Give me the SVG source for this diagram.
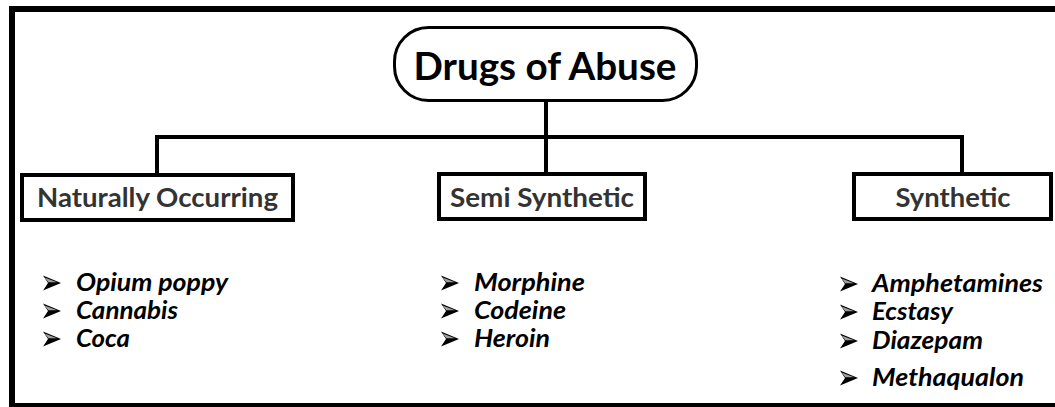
<svg xmlns="http://www.w3.org/2000/svg" width="1055" height="407" viewBox="0 0 1055 407">
  <style>
    .frame { fill: none; stroke: #000; stroke-width: 6; }
    .pill { fill: #fff; stroke: #000; stroke-width: 3; }
    .box { fill: #fff; stroke: #000; stroke-width: 4; }
    .conn { fill: none; stroke: #000; stroke-width: 4; stroke-linejoin: miter; stroke-linecap: butt; }
    .title { font-family: Lato, "Liberation Sans", sans-serif; font-weight: 700; font-size: 38px; fill: #000; text-anchor: middle; }
    .cat { font-family: Lato, "Liberation Sans", sans-serif; font-weight: 700; font-size: 26px; fill: #333; text-anchor: middle; }
    .item { font-family: Lato, "Liberation Sans", sans-serif; font-weight: 700; font-style: italic; font-size: 24px; fill: #000; }
  </style>
  <defs>
    <g id="bullet">
      <path d="M0,-7.5 L18,0 L0,7.5 L5,0 Z" fill="#000"/>
      <path d="M1.5,-5.5 L14,-0.8 L5.3,-0.8 Z" fill="#a0a0a0"/>
    </g>
  </defs>
  <rect width="1055" height="407" fill="#fff"/>
  <rect class="frame" x="12" y="9" width="1060" height="397"/>

  <g id="connectors">
    <path class="conn" d="M546,101 V137"/>
    <path class="conn" d="M157,175 V137 H962 V174"/>
    <path class="conn" d="M546,137 V174"/>
  </g>

  <g id="node-root">
    <rect class="pill" x="394.5" y="27.5" width="302" height="73" rx="34" ry="34"/>
    <text class="title" x="545" y="80" textLength="263" lengthAdjust="spacingAndGlyphs">Drugs of Abuse</text>
  </g>

  <g id="node-natural">
    <rect class="box" x="22" y="175" width="271" height="45"/>
    <text class="cat" x="157.5" y="207" textLength="241" lengthAdjust="spacingAndGlyphs">Naturally Occurring</text>
  </g>

  <g id="node-semi">
    <rect class="box" x="439" y="174" width="206" height="45"/>
    <text class="cat" x="542" y="207" textLength="184" lengthAdjust="spacingAndGlyphs">Semi Synthetic</text>
  </g>

  <g id="node-synthetic">
    <rect class="box" x="854" y="174" width="197" height="45"/>
    <text class="cat" x="953" y="207" textLength="115" lengthAdjust="spacingAndGlyphs">Synthetic</text>
  </g>

  <g id="list-natural">
    <use href="#bullet" x="43" y="283"/>
    <use href="#bullet" x="43" y="311"/>
    <use href="#bullet" x="43" y="339"/>
    <text class="item" x="76" y="291" textLength="152" lengthAdjust="spacingAndGlyphs">Opium poppy</text>
    <text class="item" x="76" y="319" textLength="102" lengthAdjust="spacingAndGlyphs">Cannabis</text>
    <text class="item" x="76" y="347" textLength="54" lengthAdjust="spacingAndGlyphs">Coca</text>
  </g>

  <g id="list-semi">
    <use href="#bullet" x="441" y="283"/>
    <use href="#bullet" x="441" y="311"/>
    <use href="#bullet" x="441" y="339"/>
    <text class="item" x="474" y="291" textLength="111" lengthAdjust="spacingAndGlyphs">Morphine</text>
    <text class="item" x="474" y="319" textLength="92" lengthAdjust="spacingAndGlyphs">Codeine</text>
    <text class="item" x="474" y="347" textLength="76" lengthAdjust="spacingAndGlyphs">Heroin</text>
  </g>

  <g id="list-synthetic">
    <use href="#bullet" x="840" y="284"/>
    <use href="#bullet" x="840" y="312"/>
    <use href="#bullet" x="840" y="341"/>
    <use href="#bullet" x="840" y="378"/>
    <text class="item" x="872" y="292" textLength="171" lengthAdjust="spacingAndGlyphs">Amphetamines</text>
    <text class="item" x="872" y="320" textLength="81" lengthAdjust="spacingAndGlyphs">Ecstasy</text>
    <text class="item" x="872" y="349" textLength="111" lengthAdjust="spacingAndGlyphs">Diazepam</text>
    <text class="item" x="872" y="386" textLength="152" lengthAdjust="spacingAndGlyphs">Methaqualon</text>
  </g>
</svg>
